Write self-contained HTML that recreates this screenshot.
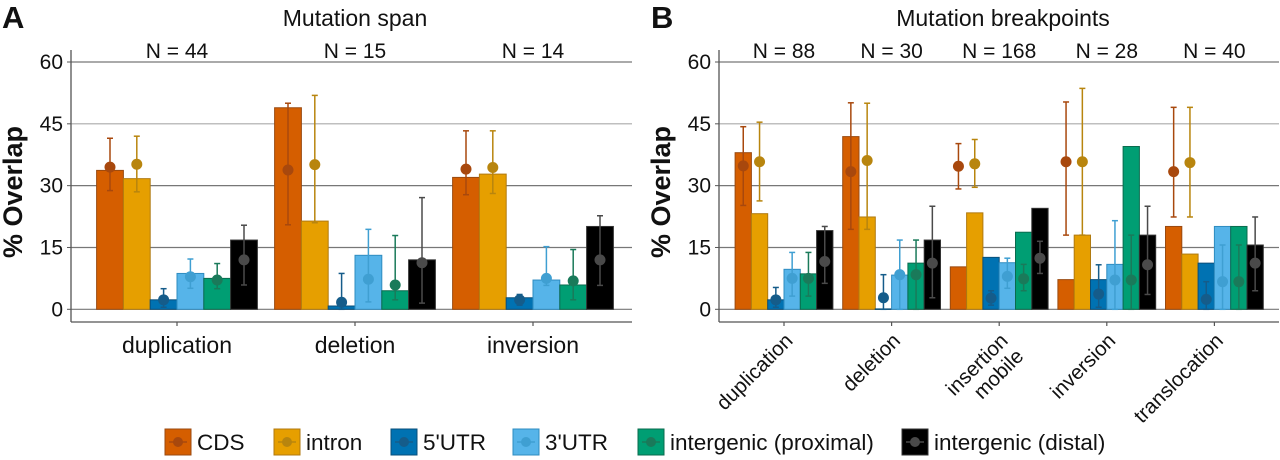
<!DOCTYPE html>
<html><head><meta charset="utf-8"><style>
html,body{margin:0;padding:0;background:#fff;}
svg{display:block;font-family:"Liberation Sans",Arial,sans-serif;}
</style></head><body>
<svg id="chart" width="1280" height="460" viewBox="0 0 1280 460" xmlns="http://www.w3.org/2000/svg">
<g id="root"></g>
</svg>
<script>
const series = ["CDS","intron","5'UTR","3'UTR","intergenic (proximal)","intergenic (distal)"];
const fills = ["#D55E00","#E69F00","#0072B2","#56B4E9","#009E73","#000000"];
const strokes = ["#9a4a10","#b07a10","#0a4f7a","#2f8cc0","#0a6b4e","#333333"];
const ptCols = ["#a8480d","#b8850e","#155c8a","#3f9fd2","#1a7a5a","#4a4a4a"];
const yTicks = [0,15,30,45,60];

const catsA = ["duplication","deletion","inversion"];
const nA = ["N = 44","N = 15","N = 14"];
const barsA = [[33.7,31.7,2.3,8.7,7.5,16.8],[48.9,21.4,0.8,13.1,4.5,12.0],[32.0,32.8,2.8,7.1,5.9,20.1]];
const ptsA = [[34.5,35.2,2.3,7.9,7.1,12.0],[33.8,35.1,1.7,7.3,5.9,11.3],[34.0,34.4,2.3,7.5,6.9,12.0]];
const hiA = [[41.5,42.0,5.0,12.2,11.1,20.4],[50.0,51.9,8.7,19.4,17.9,27.1],[43.3,43.3,3.6,15.2,14.5,22.7]];
const loA = [[28.8,28.5,0.5,5.1,5.0,5.9],[20.5,21.0,0.0,1.8,2.3,1.5],[27.8,28.1,1.0,5.8,2.3,5.8]];

const catsB = ["duplication","deletion","insertion|mobile","inversion","translocation"];
const nB = ["N = 88","N = 30","N = 168","N = 28","N = 40"];
const barsB = [[38.0,23.2,2.3,9.7,8.6,19.1],[41.9,22.4,0.1,8.3,11.2,16.8],[10.3,23.4,12.6,11.3,18.7,24.5],[7.2,18.0,7.2,10.9,39.5,18.0],[20.1,13.4,11.2,20.1,20.1,15.6]];
const ptsB = [[34.8,35.8,2.3,7.5,7.5,11.6],[33.4,36.1,2.8,8.4,8.4,11.2],[34.7,35.3,2.7,8.0,7.4,12.4],[35.8,35.8,3.7,7.1,7.1,10.8],[33.4,35.6,2.4,6.7,6.7,11.2]];
const hiB = [[44.3,45.4,5.3,13.8,13.8,20.1],[50.1,50.0,8.4,16.8,16.8,25.0],[40.2,41.2,4.5,12.4,10.9,16.5],[50.3,53.6,10.8,21.5,18.0,25.0],[49.0,49.0,6.7,15.6,15.6,22.4]];
const loB = [[25.2,26.3,0.5,3.2,3.2,6.3],[19.4,19.4,0.0,0.0,0.0,2.8],[29.2,29.6,1.0,5.1,4.5,8.7],[18.0,18.0,0.5,0.0,0.0,3.6],[22.4,22.4,0.0,0.0,0.0,4.5]];

const NS="http://www.w3.org/2000/svg";
const root=document.getElementById('root');
function mk(tag,attrs,parent,text){const e=document.createElementNS(NS,tag);for(const k in attrs)e.setAttribute(k,attrs[k]);if(text!==undefined)e.textContent=text;(parent||root).appendChild(e);return e;}
const Y0=309.3,Y60=62;
function y(v){return Y0-(v/60)*(Y0-Y60);}

function panel(opts){
  const g=mk('g',{});
  
  
  yTicks.forEach(t=>{
    const l=mk('line',{x1:opts.axisX,x2:opts.right,y1:y(t),y2:y(t),stroke:t===45?'#aaa':'#777','stroke-width':1.2},g);
    
    
    mk('line',{x1:opts.axisX-4,x2:opts.axisX,y1:y(t),y2:y(t),stroke:'#555','stroke-width':1},g);
    const tx=mk('text',{x:opts.axisX-8,y:y(t)+7,'text-anchor':'end','font-size':21,fill:'#111'},g,String(t));
    
    
  });
  const ax=mk('line',{x1:opts.axisX,x2:opts.axisX,y1:50,y2:322,stroke:'#555','stroke-width':1.3},g);
  
  
  const bx=mk('line',{x1:opts.axisX,x2:opts.right,y1:322,y2:322,stroke:'#555','stroke-width':1.3},g);
  
  
  const yt=mk('text',{x:0,y:0,transform:`translate(${opts.axisX-49},192) rotate(-90)`,'text-anchor':'middle','font-size':27,'font-weight':'bold',fill:'#111'},g,'% Overlap');
  
  
  const tt=mk('text',{x:opts.titleX,y:26,'text-anchor':'middle','font-size':23,fill:'#111'},g,opts.title);
  
  
  const pl=mk('text',{x:opts.letterX,y:28,'font-size':31,'font-weight':'bold',fill:'#111'},g,opts.letter);
  
  
  const bw=opts.bw;
  opts.cats.forEach((c,i)=>{
    const cx=opts.c0+i*opts.step;
    const nl=mk('text',{x:cx,y:58,'text-anchor':'middle','font-size':21,fill:'#111'},g,opts.ns[i]);
    
    
    mk('line',{x1:cx,x2:cx,y1:322,y2:326,stroke:'#555','stroke-width':1.2},g);
    const x0=cx-3*bw;
    for(let s=0;s<6;s++){
      const bx0=x0+s*bw, v=opts.bars[i][s];
      const r=mk('rect',{x:bx0,y:y(v),width:bw,height:Math.max(0.5,y(0)-y(v)),fill:fills[s],stroke:strokes[s],'stroke-width':1},g);
      
      
      const mx=bx0+bw/2;
      const e=mk('line',{x1:mx,x2:mx,y1:y(opts.hi[i][s]),y2:y(opts.lo[i][s]),stroke:ptCols[s],'stroke-width':1.5},g);
      
      
      mk('line',{x1:mx-3,x2:mx+3,y1:y(opts.hi[i][s]),y2:y(opts.hi[i][s]),stroke:ptCols[s],'stroke-width':1.5},g);
      mk('line',{x1:mx-3,x2:mx+3,y1:y(opts.lo[i][s]),y2:y(opts.lo[i][s]),stroke:ptCols[s],'stroke-width':1.5},g);
      const p=mk('circle',{cx:mx,cy:y(opts.pts[i][s]),r:5.5,fill:ptCols[s]},g);
      
      
    }
    if(opts.rot){
      const lines=c.split('|');
      const t=mk('text',{transform:`translate(${cx},332) rotate(-45)`,'text-anchor':'end','font-size':20.5,fill:'#111'},g);
      
      
      lines.forEach((ln,k)=>{mk('tspan',{x:0,y:k*22+14},t,ln);});
    } else {
      const t=mk('text',{x:cx,y:353,'text-anchor':'middle','font-size':23,fill:'#111'},g,c);
      
      
    }
  });
}
panel({name:'panel-a-mutation-span',axisX:71,right:632,c0:177,step:178,bw:26.8,cats:catsA,ns:nA,bars:barsA,pts:ptsA,hi:hiA,lo:loA,title:'Mutation span',titleX:355,letter:'A',letterX:2,rot:false});
panel({name:'panel-b-mutation-breakpoints',axisX:719,right:1279,c0:784,step:107.6,bw:16.3,cats:catsB,ns:nB,bars:barsB,pts:ptsB,hi:hiB,lo:loB,title:'Mutation breakpoints',titleX:1003,letter:'B',letterX:651,rot:true});

const legX=[165,274,391,513,638,902];
const lg=mk('g',{});


series.forEach((s,i)=>{
  const x=legX[i];
  const e=mk('g',{},lg);
  
  
  mk('rect',{x:x,y:429,width:26,height:26,fill:fills[i],stroke:strokes[i],'stroke-width':1},e);
  mk('line',{x1:x+4,x2:x+22,y1:442,y2:442,stroke:ptCols[i],'stroke-width':1.5},e);
  mk('circle',{cx:x+13,cy:442,r:5,fill:ptCols[i]},e);
  mk('text',{x:x+32,y:450,'font-size':22.5,fill:'#111'},e,s);
});
</script>
</body></html>
